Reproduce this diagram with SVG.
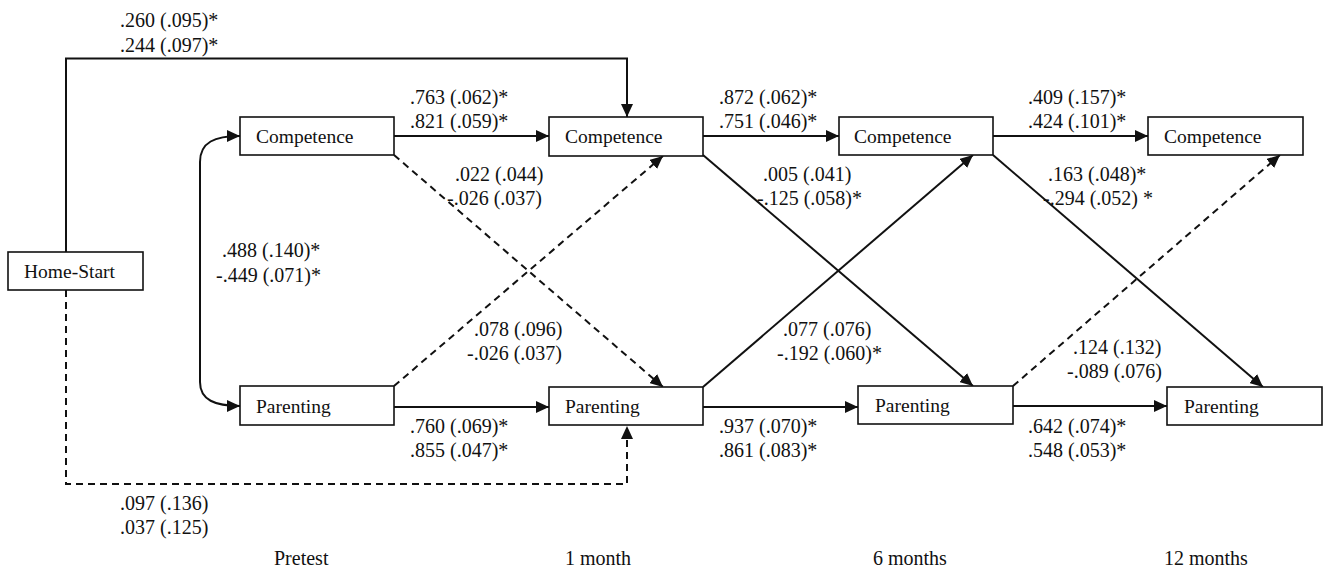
<svg xmlns="http://www.w3.org/2000/svg" width="1325" height="570" viewBox="0 0 1325 570">
<style>
text{font-family:"Liberation Serif","Times New Roman",serif;font-size:20px;fill:#111}
.nd{font-size:19.5px}
.box{fill:#fff;stroke:#111;stroke-width:1.6}
.ln{fill:none;stroke:#111;stroke-width:2}
.ds{stroke-dasharray:7 5}
.ar{marker-end:url(#ah)}
</style>
<defs>
<marker id="ah" markerUnits="userSpaceOnUse" markerWidth="14" markerHeight="12" refX="13" refY="6" orient="auto-start-reverse" viewBox="0 0 14 12">
<path d="M0,0 L13,6 L0,12 z" fill="#111"/>
</marker>
</defs>
<g id="connectors">
<path class="ln ar" d="M66,252 V58.5 H627 V117"/>
<path class="ln ds ar" d="M66,290 V484 H627 V426"/>
<path class="ln" style="marker-start:url(#ah);marker-end:url(#ah)" d="M240,136 C215,136 200,142 200,162 V382 C200,400 215,406 240,406"/>
<path class="ln ar" d="M394,136 H549"/>
<path class="ln ar" d="M690,136 H839"/>
<path class="ln ar" d="M993,136 H1148"/>
<path class="ln ar" d="M394,407 H549"/>
<path class="ln ar" d="M703,407 H858"/>
<path class="ln ar" d="M1013,406 H1167"/>
<path class="ln ds ar" d="M394,155 L663,387"/>
<path class="ln ds ar" d="M394,386 L663,156"/>
<path class="ln ar" d="M703,155 L973,386"/>
<path class="ln ar" d="M703,387 L973,155"/>
<path class="ln ar" d="M993,155 L1263,387"/>
<path class="ln ds ar" d="M1013,386 L1280,155"/>
</g>
<g id="home-start"><rect class="box" x="8" y="252" width="135" height="38"/><text class="nd" x="24" y="278">Home-Start</text></g>
<g id="competence-pretest"><rect class="box" x="240" y="117" width="154" height="38"/><text class="nd" x="256" y="143">Competence</text></g>
<g id="parenting-pretest"><rect class="box" x="240" y="386" width="154" height="39"/><text class="nd" x="256" y="413">Parenting</text></g>
<g id="competence-1m"><rect class="box" x="549" y="117" width="154" height="39"/><text class="nd" x="565" y="143">Competence</text></g>
<g id="parenting-1m"><rect class="box" x="549" y="387" width="154" height="38"/><text class="nd" x="565" y="413">Parenting</text></g>
<g id="competence-6m"><rect class="box" x="839" y="117" width="154" height="38"/><text class="nd" x="854" y="143">Competence</text></g>
<g id="parenting-6m"><rect class="box" x="858" y="386" width="155" height="38"/><text class="nd" x="875" y="412">Parenting</text></g>
<g id="competence-12m"><rect class="box" x="1148" y="117" width="155" height="38"/><text class="nd" x="1164" y="143">Competence</text></g>
<g id="parenting-12m"><rect class="box" x="1167" y="387" width="155" height="38"/><text class="nd" x="1184" y="413">Parenting</text></g>
<g id="labels">
<text x="120" y="27">.260 (.095)*</text>
<text x="120" y="52">.244 (.097)*</text>
<text x="410" y="104">.763 (.062)*</text>
<text x="410" y="128">.821 (.059)*</text>
<text x="455" y="181">.022 (.044)</text>
<text x="447" y="205">-.026 (.037)</text>
<text x="719" y="104">.872 (.062)*</text>
<text x="719" y="128">.751 (.046)*</text>
<text x="763" y="181">.005 (.041)</text>
<text x="757" y="205">-.125 (.058)*</text>
<text x="1028" y="104">.409 (.157)*</text>
<text x="1028" y="128">.424 (.101)*</text>
<text x="1048" y="181">.163 (.048)*</text>
<text x="1043" y="205">-.294 (.052) *</text>
<text x="222" y="257">.488 (.140)*</text>
<text x="216" y="282">-.449 (.071)*</text>
<text x="474" y="336">.078 (.096)</text>
<text x="467" y="360">-.026 (.037)</text>
<text x="783" y="336">.077 (.076)</text>
<text x="777" y="360">-.192 (.060)*</text>
<text x="1073" y="354">.124 (.132)</text>
<text x="1067" y="378">-.089 (.076)</text>
<text x="410" y="433">.760 (.069)*</text>
<text x="410" y="457">.855 (.047)*</text>
<text x="719" y="433">.937 (.070)*</text>
<text x="719" y="457">.861 (.083)*</text>
<text x="1028" y="433">.642 (.074)*</text>
<text x="1028" y="457">.548 (.053)*</text>
<text x="120" y="510">.097 (.136)</text>
<text x="120" y="534">.037 (.125)</text>
<text x="274" y="565">Pretest</text>
<text x="565" y="565">1 month</text>
<text x="873" y="565">6 months</text>
<text x="1164" y="565">12 months</text>
</g>
</svg>
